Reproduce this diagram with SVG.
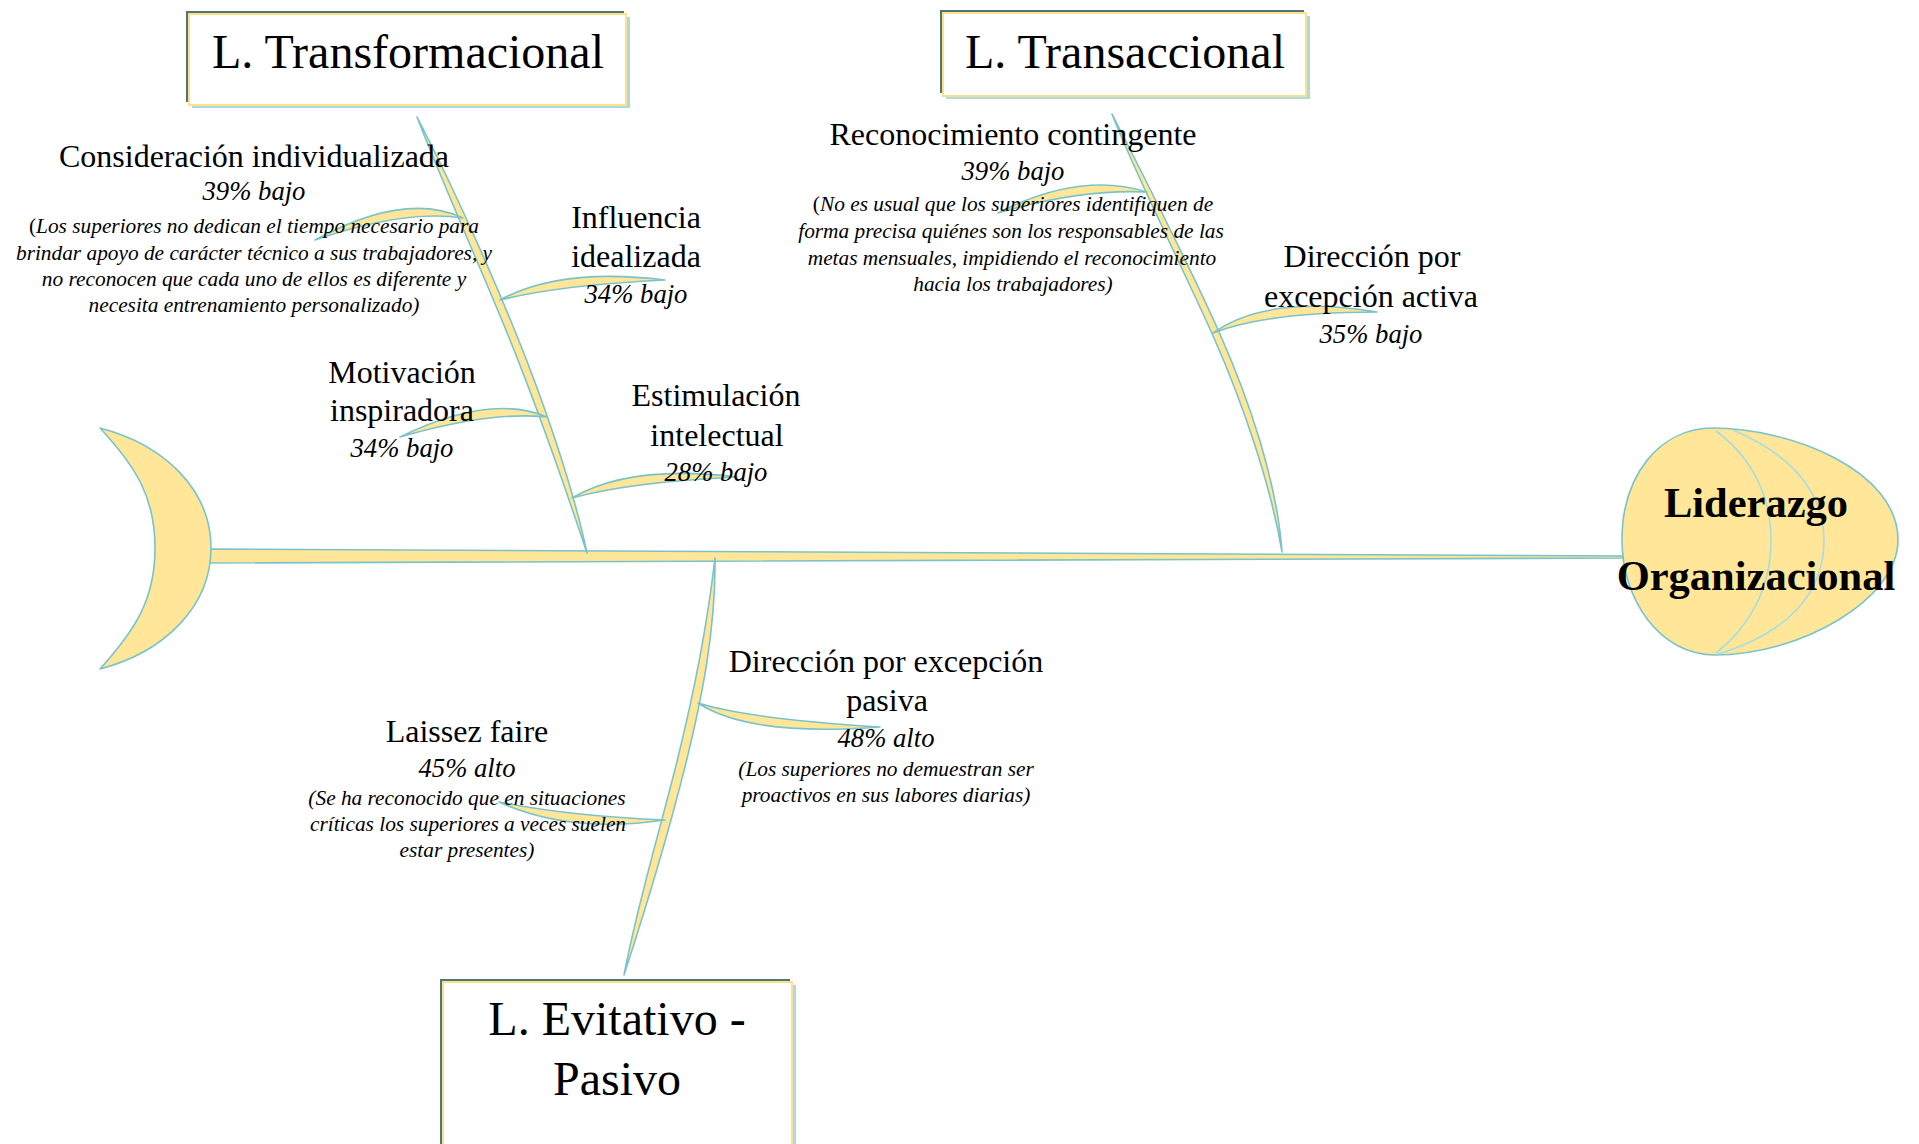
<svg xmlns="http://www.w3.org/2000/svg" width="1919" height="1144" viewBox="0 0 1919 1144">
  <style>
    .bone { fill: #FFE699; stroke: #7AC3C9; stroke-width: 1.6; stroke-linejoin: round; }
    .arc { fill: none; stroke: #A8DCE2; stroke-width: 1.6; }
    .shadow-dark { fill: #4E7673; }
    .shadow-light { fill: #A9DCE1; }
    .boxface { fill: #FFFFFF; stroke: #FFE08A; stroke-width: 2; }
    text { font-family: "Liberation Serif", "Times New Roman", serif; fill: #000; text-anchor: middle; }
    .cat { font-size: 48px; }
    .lbl { font-size: 32px; }
    .pct { font-size: 26.67px; font-style: italic; }
    .desc { font-size: 21.33px; font-style: italic; }
    .up { font-style: normal; }
    .head { font-size: 42.5px; font-weight: bold; }
  </style>

  <rect x="0" y="0" width="1919" height="1144" fill="#FFFFFF"/>

  <!-- connectors: spine, main bones, branches -->
  <g id="connectors">
    <path id="spine" class="bone" d="M205,549 L1623,556 L1623,558 L205,563 Z"/>
    <path id="bone-transformacional" class="bone" d="M417,117 C449.6,179.3 489.7,268.6 516,333.5 C542.3,398.4 572.4,483.9 587,553 C565,486.9 534.9,401.4 508.6,336.5 C482.3,271.6 442.2,182.3 417,117 Z"/>
    <path id="bone-transaccional" class="bone" d="M1112,114 C1143.9,176.4 1192.2,271.3 1220.5,335.3 C1248.8,399.4 1276.9,481.1 1282,552 C1270.5,483.9 1242.4,402.2 1214.1,338.2 C1185.8,274.1 1137.5,179.2 1112,114 Z"/>
    <path id="bone-evitativo" class="bone" d="M715,558 C715.9,629 701.8,699.7 684.8,767.6 C667.8,835.5 645.8,908.3 624,975 C637,906.1 659,833.3 676,765.4 C693,697.5 707.1,626.8 715,558 Z"/>
    <path id="br-consideracion" class="bone" d="M463,218 Q405,191 315,240 Q405,209 463,218 Z"/>
    <path id="br-influencia" class="bone" d="M500,300 Q560,267 665,280 Q560,285 500,300 Z"/>
    <path id="br-motivacion" class="bone" d="M547,417 Q490,393 400,437 Q490,411 547,417 Z"/>
    <path id="br-estimulacion" class="bone" d="M572,498 Q630,464 737,477 Q630,482 572,498 Z"/>
    <path id="br-reconocimiento" class="bone" d="M1147,192 Q1080,171 998,213 Q1080,189 1147,192 Z"/>
    <path id="br-activa" class="bone" d="M1213,333 Q1268,294 1377,312 Q1268,312 1213,333 Z"/>
    <path id="br-pasiva" class="bone" d="M698,703 Q750,719 880,727 Q750,737 698,703 Z"/>
    <path id="br-laissez" class="bone" d="M665,820 Q570,816 499,802 Q570,834 665,820 Z"/>
  </g>

  <!-- tail -->
  <g id="node-tail">
    <path class="bone" d="M100,428 C165,445 211,490 211,548 C211,606 165,652 100,669 C135,630 155,600 155,548 C155,496 135,466 100,428 Z"/>
  </g>

  <!-- head -->
  <g id="node-head">
    <path class="bone" d="M1713,428 C1790,428 1898,470 1898,540 C1898,600 1800,655 1715,655 C1660,655 1622,600 1622,540 C1622,475 1660,428 1713,428 Z"/>
    <path class="arc" d="M1716,431 C1755,460 1771,500 1771,540 C1771,590 1748,628 1716,653"/>
    <path class="arc" d="M1733,430 C1800,458 1824,500 1824,540 C1824,592 1790,632 1718,654"/>
    <text class="head" x="1756" y="517">Liderazgo</text>
    <text class="head" x="1756" y="590">Organizacional</text>
  </g>

  <!-- category boxes -->
  <g id="node-transformacional">
    <rect class="shadow-light" x="192" y="17" width="438" height="91"/>
    <rect class="shadow-dark" x="186" y="11" width="438" height="91"/>
    <rect class="boxface" x="189" y="14" width="437" height="91"/>
    <text class="cat" x="408" y="68">L. Transformacional</text>
  </g>

  <g id="node-transaccional">
    <rect class="shadow-light" x="946" y="16" width="364" height="83"/>
    <rect class="shadow-dark" x="940" y="10" width="364" height="83"/>
    <rect class="boxface" x="943" y="13" width="363" height="83"/>
    <text class="cat" x="1125" y="68">L. Transaccional</text>
  </g>

  <g id="node-evitativo">
    <rect class="shadow-light" x="446" y="985" width="350" height="180"/>
    <rect class="shadow-dark" x="440" y="979" width="350" height="180"/>
    <rect class="boxface" x="443" y="982" width="349" height="180"/>
    <text class="cat" x="617" y="1035">L. Evitativo -</text>
    <text class="cat" x="617" y="1095">Pasivo</text>
  </g>

  <!-- sub-causes -->
  <g id="node-consideracion">
    <text class="lbl" x="254" y="167">Consideración individualizada</text>
    <text class="pct" x="254" y="200">39% bajo</text>
    <text class="desc" x="254" y="233"><tspan class="up">(</tspan>Los superiores no dedican el tiempo necesario para</text>
    <text class="desc" x="254" y="260">brindar apoyo de carácter técnico a sus trabajadores, y</text>
    <text class="desc" x="254" y="286">no reconocen que cada uno de ellos es diferente y</text>
    <text class="desc" x="254" y="312">necesita entrenamiento personalizado)</text>
  </g>

  <g id="node-influencia">
    <text class="lbl" x="636" y="228">Influencia</text>
    <text class="lbl" x="636" y="267">idealizada</text>
    <text class="pct" x="636" y="303">34% bajo</text>
  </g>

  <g id="node-motivacion">
    <text class="lbl" x="402" y="383">Motivación</text>
    <text class="lbl" x="402" y="421">inspiradora</text>
    <text class="pct" x="402" y="457">34% bajo</text>
  </g>

  <g id="node-estimulacion">
    <text class="lbl" x="716" y="406">Estimulación</text>
    <text class="lbl" x="717" y="446">intelectual</text>
    <text class="pct" x="716" y="481">28% bajo</text>
  </g>

  <g id="node-reconocimiento">
    <text class="lbl" x="1013" y="145">Reconocimiento contingente</text>
    <text class="pct" x="1013" y="180">39% bajo</text>
    <text class="desc" x="1013" y="211"><tspan class="up">(</tspan>No es usual que los superiores identifiquen de</text>
    <text class="desc" x="1011" y="238">forma precisa quiénes son los responsables de las</text>
    <text class="desc" x="1012" y="265">metas mensuales, impidiendo el reconocimiento</text>
    <text class="desc" x="1013" y="291">hacia los trabajadores)</text>
  </g>

  <g id="node-activa">
    <text class="lbl" x="1372" y="267">Dirección por</text>
    <text class="lbl" x="1371" y="307">excepción activa</text>
    <text class="pct" x="1371" y="343">35% bajo</text>
  </g>

  <g id="node-pasiva">
    <text class="lbl" x="886" y="672">Dirección por excepción</text>
    <text class="lbl" x="887" y="711">pasiva</text>
    <text class="pct" x="886" y="747">48% alto</text>
    <text class="desc" x="886" y="776">(Los superiores no demuestran ser</text>
    <text class="desc" x="886" y="802">proactivos en sus labores diarias)</text>
  </g>

  <g id="node-laissez">
    <text class="lbl" x="467" y="742">Laissez faire</text>
    <text class="pct" x="467" y="777">45% alto</text>
    <text class="desc" x="467" y="805">(Se ha reconocido que en situaciones</text>
    <text class="desc" x="468" y="831">críticas los superiores a veces suelen</text>
    <text class="desc" x="467" y="857">estar presentes)</text>
  </g>
</svg>
